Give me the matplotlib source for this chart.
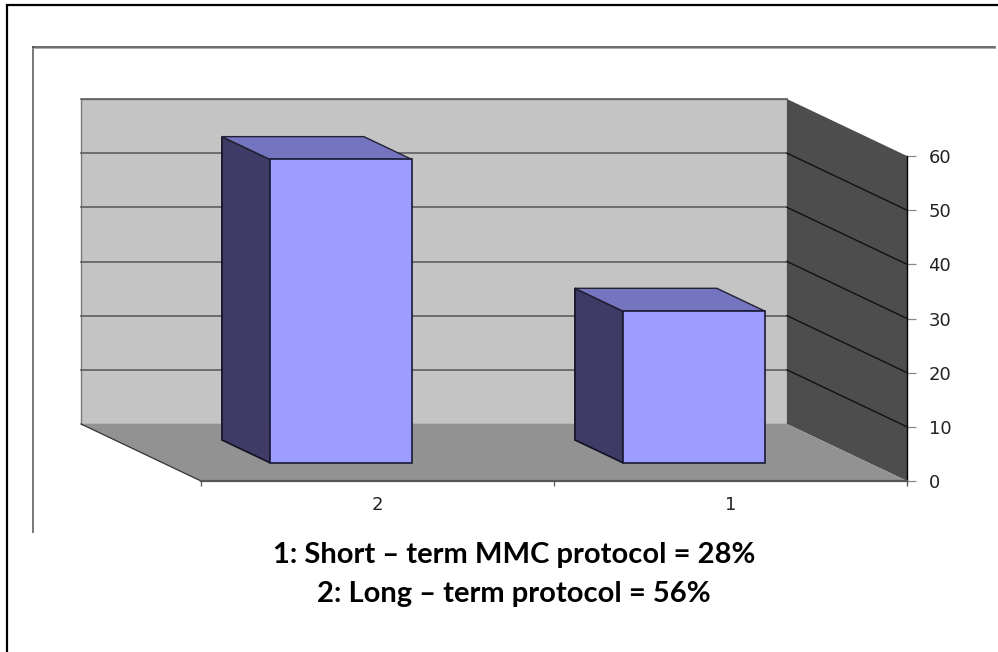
import matplotlib
matplotlib.use("Agg")
import matplotlib.pyplot as plt

# datos
categories = ["2", "1"]
values = [56, 28]
y_ticks = [0, 10, 20, 30, 40, 50, 60]
caption_lines = ["1: Short \u2013 term MMC protocol = 28%",
                 "2: Long \u2013 term protocol = 56%"]

W, H = 998, 652
X0, X1 = 201, 907    # plano frontal en pixeles
Y0, Y60 = 481, 156
DEPTH_PX = (120, 57)  # desplazamiento del fondo respecto al frente
BAR_WIDTH = 0.402
BAR_SHIFT = 0.005
BAR_DEPTH = (0.32, 0.72)

fig = plt.figure(figsize=(W / 100, H / 100), dpi=100, facecolor="white")

# marcos de la pagina
bg = fig.add_axes([0, 0, 1, 1])
bg.set_xlim(0, W)
bg.set_ylim(H, 0)
bg.axis("off")
bg.plot([7, 7, W], [H, 5, 5], color="black", lw=1.6, solid_joinstyle="miter")
bg.plot([33.5, 33.5], [532, 46.5], color="#777777", lw=1.4)
bg.plot([33.5, 995], [46.5, 46.5], color="#444444", lw=1.1)
bg.plot([33.5, 995], [47.5, 47.5], color="#aaaaaa", lw=0.7)

ax = fig.add_axes([X0 / W, 1 - Y0 / H, (X1 - X0) / W, (Y0 - Y60) / H])
ax.set_xlim(-0.5, 1.5)
ax.set_ylim(0, 60)
ax.patch.set_alpha(0)

x_per_px = 2 / (X1 - X0)
y_per_px = 60 / (Y0 - Y60)


def proj(x, y, d):
    """Proyeccion oblicua: d=0 plano frontal, d=1 pared del fondo."""
    return x - d * DEPTH_PX[0] * x_per_px, y + d * DEPTH_PX[1] * y_per_px


def face(pts, color, edge="none", lw=0.0, z=1):
    xy = [proj(*p) for p in pts]
    ax.fill([p[0] for p in xy], [p[1] for p in xy], facecolor=color,
            edgecolor=edge, linewidth=lw, clip_on=False, zorder=z,
            joinstyle="miter")


# pared del fondo, pared lateral y suelo
face([(-0.5, 0, 1), (1.5, 0, 1), (1.5, 60, 1), (-0.5, 60, 1)], "#c4c4c4", "#7a7a7a", 1.0)
face([(1.5, 0, 0), (1.5, 0, 1), (1.5, 60, 1), (1.5, 60, 0)], "#4d4d4d")
face([(-0.5, 0, 0), (1.5, 0, 0), (1.5, 0, 1), (-0.5, 0, 1)], "#929292")

# borde del suelo
bx, by = zip(proj(-0.5, 0, 1), proj(-0.5, 0, 0))
ax.plot(bx, by, color="#333333", lw=0.9, clip_on=False, zorder=2)

# rejilla
for v in y_ticks[1:-1] + [60]:
    gx, gy = zip(proj(-0.5, v, 1), proj(1.5, v, 1))
    ax.plot(gx, gy, color="#5f5f5f", lw=1.2, clip_on=False, zorder=2)
    gx, gy = zip(proj(1.5, v, 1), proj(1.5, v, 0))
    if v < 60:
        ax.plot(gx, gy, color="#111111", lw=1.0, clip_on=False, zorder=2)

# barras
for i, v in enumerate(values):
    l, r = i + BAR_SHIFT - BAR_WIDTH / 2, i + BAR_SHIFT + BAR_WIDTH / 2
    d0, d1 = BAR_DEPTH
    z = 3 + i
    face([(l, 0, d0), (l, 0, d1), (l, v, d1), (l, v, d0)], "#3e3c66", "#111122", 1.2, z)
    face([(l, v, d0), (l, v, d1), (r, v, d1), (r, v, d0)], "#7474c0", "#222233", 1.0, z)
    face([(l, 0, d0), (r, 0, d0), (r, v, d0), (l, v, d0)], "#9d9dff", "#1a1a33", 1.2, z)

# ejes
ax.spines["top"].set_visible(False)
ax.spines["left"].set_visible(False)
ax.spines["right"].set_linewidth(1.0)
ax.spines["bottom"].set_color("#555555")
ax.spines["bottom"].set_linewidth(1.6)
for s in ax.spines.values():
    s.set_zorder(6)

ax.yaxis.tick_right()
ax.set_yticks(y_ticks)
ax.set_xticks([-0.5, 0.5, 1.5])
ax.set_xticklabels([])
ax.set_xticks([0, 1], labels=categories, minor=True)
ax.tick_params(axis="y", length=6.5, width=0.9, color="#888888", pad=9,
               labelsize=13, labelcolor="#222222")
ax.tick_params(axis="x", which="major", length=3.6, width=0.9, color="#555555")
ax.tick_params(axis="x", which="minor", length=0, pad=11, labelsize=13,
               labelcolor="#222222")

# leyenda de texto al pie
for line, base in zip(caption_lines, [563, 602]):
    bg.text(514, base, line, ha="center", va="baseline", family="Lato",
            fontweight="bold", fontsize=21, color="black")

fig.savefig("out.png", dpi=100, facecolor="white")
